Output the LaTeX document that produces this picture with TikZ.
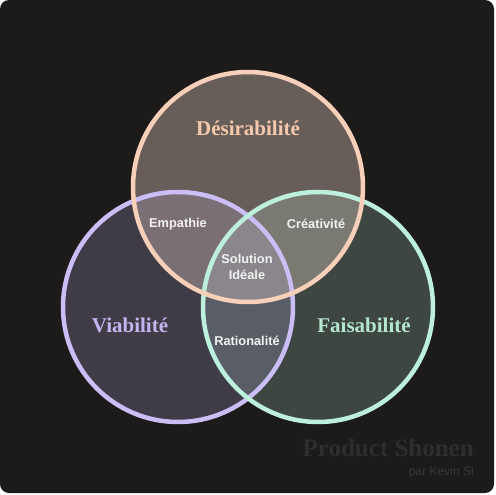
\documentclass[tikz,border=0pt]{standalone}
\usepackage{fontspec}
\setmainfont{Liberation Serif}
\setsansfont{Liberation Sans}
\definecolor{bgdark}{HTML}{1C1B1A}
\definecolor{desfill}{HTML}{675E59}
\definecolor{viafill}{HTML}{403C47}
\definecolor{faifill}{HTML}{3E4641}
\definecolor{desvia}{HTML}{7A6F74}
\definecolor{desfai}{HTML}{7A7A73}
\definecolor{viafai}{HTML}{595D66}
\definecolor{allthree}{HTML}{8A868C}
\definecolor{peach}{HTML}{F8CFB8}
\definecolor{lavender}{HTML}{CBBDF5}
\definecolor{mint}{HTML}{BCEFDC}
\definecolor{peachtext}{HTML}{F6C8AC}
\definecolor{lavtext}{HTML}{C4B5F0}
\definecolor{minttext}{HTML}{B4E6D2}
\definecolor{signdark}{HTML}{2F2E2D}
\definecolor{signsub}{HTML}{3A3938}
\begin{document}
\begin{tikzpicture}[x=1pt, y=-1pt,
                    line width=4.5pt,
                    inner sep=0pt,
                    ]
    \tikzstyle{title}=[font=\fontsize{21}{21}\selectfont\bfseries]
    \tikzstyle{zone}=[font=\sffamily\bfseries\fontsize{12.8}{16}\selectfont, text=white!95!black, align=center]
    \tikzstyle{sign}=[font=\fontsize{25}{25}\selectfont\bfseries, text=signdark, anchor=east]
    \tikzstyle{signby}=[font=\sffamily\fontsize{12}{12}\selectfont, text=signsub, anchor=east]

    \useasboundingbox (0,0) rectangle (495,495);
    \fill[white] (0,0) rectangle (495,495);
    \fill[bgdark, rounded corners=9pt] (0,0) rectangle (494,493);

    \coordinate (des) at (248,187);
    \coordinate (via) at (178,307);
    \coordinate (fai) at (318,307);

    % circle areas and overlaps
    \fill[desfill] (des) circle (115);
    \fill[viafill] (via) circle (115);
    \fill[faifill] (fai) circle (115);
    \begin{scope}
        \clip (via) circle (115);
        \fill[viafai] (fai) circle (115);
    \end{scope}
    \begin{scope}
        \clip (des) circle (115);
        \fill[desvia] (via) circle (115);
        \fill[desfai] (fai) circle (115);
        \clip (via) circle (115);
        \fill[allthree] (fai) circle (115);
    \end{scope}

    % outlines
    \draw[lavender] (via) circle (115);
    \draw[mint] (fai) circle (115);
    \draw[peach] (des) circle (115);

    \node[title, text=peachtext] (desirabilite) at (248,128) {Désirabilité};
    \node[title, text=lavtext] (viabilite) at (130,325) {Viabilité};
    \node[title, text=minttext] (faisabilite) at (364,325) {Faisabilité};

    \node[zone] (empathie) at (178,224) {Empathie};
    \node[zone] (creativite) at (316,224) {Créativité};
    \node[zone] (solution) at (247,267) {Solution\\Idéale};
    \node[zone] (rationalite) at (247,341) {Rationalité};

    \node[sign] (shonen) at (476,448) {Product Shonen};
    \node[signby] (auteur) at (476,472) {par Kevin Si};
\end{tikzpicture}
\end{document}
